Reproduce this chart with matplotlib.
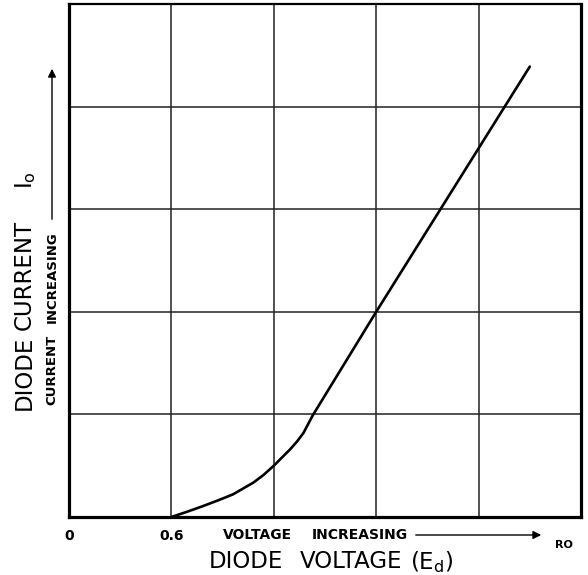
import matplotlib.pyplot as plt

# diode forward characteristic (1 unit = 1 grid square)
volts = [1.0, 1.15, 1.31, 1.45, 1.60, 1.80, 1.90, 2.00, 2.08, 2.16, 2.23,
         2.29, 2.38, 3.0, 4.5]
current = [0.0, 0.05, 0.107, 0.16, 0.22, 0.335, 0.41, 0.50, 0.58, 0.66,
           0.74, 0.82, 0.99, 2.0, 4.39]

grid_pos = [0, 1, 2, 3, 4, 5]
x_ticklabels = ['0', '0.6', '', '', '', '']

W, H = 588, 575
fig = plt.figure(figsize=(W / 100, H / 100), dpi=100)
ax = fig.add_axes([69 / W, 1 - 517 / H, 512 / W, 513 / H])

ax.plot(volts, current, color='black', lw=1.9, solid_capstyle='round',
        solid_joinstyle='round')

ax.set_xlim(0, 5)
ax.set_ylim(0, 5)
ax.set_xticks(grid_pos)
ax.set_xticklabels(x_ticklabels, fontsize=10, fontweight='bold')
ax.set_yticks(grid_pos)
ax.set_yticklabels([])
ax.tick_params(length=0, pad=9)
ax.grid(True, color='#222222', lw=1.1)

for side in ['left', 'right', 'bottom']:
    ax.spines[side].set_linewidth(2.3)
ax.spines['top'].set_linewidth(1.6)


def ftext(x, y, s, **kw):
    # place text by pixel position of the 588x575 picture
    return fig.text(x / W, 1 - y / H, s, **kw)


# x captions
ftext(223, 535, 'VOLTAGE', fontsize=10, fontweight='bold', va='center')
ftext(312, 535, 'INCREASING', fontsize=10, fontweight='bold', va='center')
ftext(564, 545, 'RO', fontsize=8, fontweight='bold', ha='center',
      va='center')
ftext(209, 562, 'DIODE', fontsize=16.5, va='center')
ftext(300, 562, 'VOLTAGE', fontsize=16.5, va='center')
ftext(410, 562, r'$\mathregular{(E_d)}$', fontsize=16.5, va='center')

# y captions
ftext(24, 410, 'DIODE', fontsize=16.5, rotation=90, ha='center', va='bottom')
ftext(24, 330, 'CURRENT', fontsize=16.5, rotation=90, ha='center',
      va='bottom')
ftext(26, 189, r'$\mathregular{I_o}$', fontsize=16.5, rotation=90,
      ha='center', va='bottom')
ftext(52, 405, 'CURRENT', fontsize=9.5, fontweight='bold', rotation=90,
      ha='center', va='bottom')
ftext(52, 323, 'INCREASING', fontsize=9.5, fontweight='bold', rotation=90,
      ha='center', va='bottom')

# arrows
ax.annotate('', xy=(544 / W, 1 - 535 / H), xytext=(413 / W, 1 - 535 / H),
            xycoords='figure fraction', textcoords='figure fraction',
            arrowprops=dict(arrowstyle='-|>', color='black', lw=1.0,
                            mutation_scale=12))
ax.annotate('', xy=(52 / W, 1 - 66 / H), xytext=(52 / W, 1 - 222 / H),
            xycoords='figure fraction', textcoords='figure fraction',
            arrowprops=dict(arrowstyle='-|>', color='black', lw=1.0,
                            mutation_scale=12))

plt.savefig('out.png', dpi=100)
